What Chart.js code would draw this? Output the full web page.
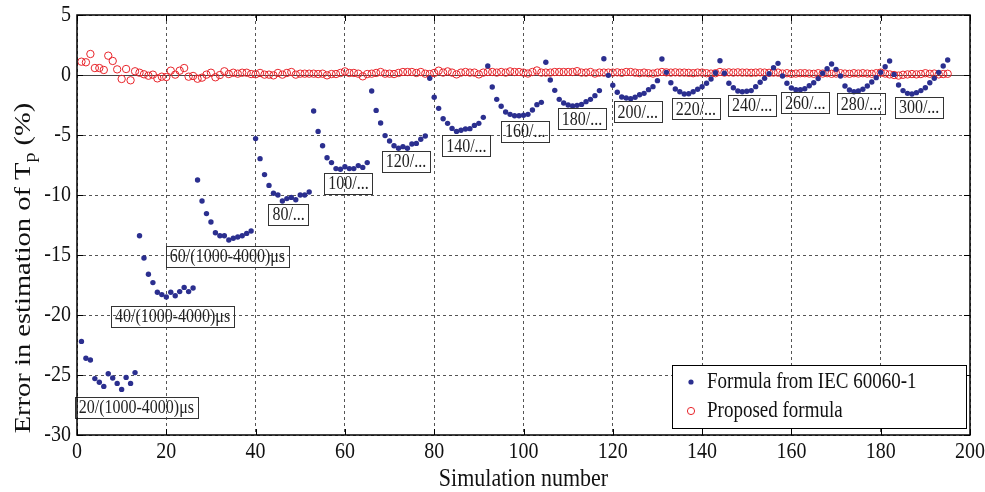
<!DOCTYPE html>
<html>
<head>
<meta charset="utf-8">
<script src="https://cdn.jsdelivr.net/npm/chart.js@4.4.0/dist/chart.umd.min.js"></script>
<style>
  html, body { margin: 0; padding: 0; background: #fff; }
  #wrap { width: 985px; height: 492px; }
</style>
</head>
<body>
<div id="wrap"><canvas id="chart" width="985" height="492"></canvas></div>
<script>
// Formula from IEC 60060-1 (simulations 1..195, groups of 13)
const iecError = [
  -22.2, -23.6, -23.75, -25.3, -25.6, -25.95, -24.9, -25.25, -25.7, -26.2, -25.2, -25.7, -24.8,
  -13.4, -15.25, -16.6, -17.3, -18.1, -18.3, -18.5, -18.1, -18.4, -18.05, -17.7, -18.05, -17.75,
  -8.75, -10.5, -11.55, -12.25, -13.15, -13.4, -13.4, -13.75, -13.6, -13.5, -13.4, -13.2, -13.0,
  -5.3, -6.97, -8.3, -9.2, -9.85, -10.0, -10.5, -10.3, -10.2, -10.4, -10.0, -10.0, -9.75,
  -3.0, -4.7, -5.9, -6.9, -7.3, -7.8, -7.85, -7.65, -7.8, -7.8, -7.55, -7.7, -7.3,
  -1.33, -2.95, -4.0, -5.05, -5.5, -5.9, -6.1, -5.97, -6.1, -5.75, -5.7, -5.36, -5.08,
  -0.28, -1.86, -2.78, -3.64, -4.03, -4.45, -4.7, -4.6, -4.5, -4.47, -4.2, -4.03, -3.53,
  0.75, -1.0, -2.03, -2.6, -3.08, -3.28, -3.4, -3.4, -3.35, -3.28, -2.92, -2.47, -2.28,
  1.06, -0.42, -1.28, -2.03, -2.33, -2.5, -2.58, -2.53, -2.45, -2.22, -2.03, -1.72, -1.3,
  1.36, -0.03, -0.86, -1.44, -1.83, -1.92, -1.97, -1.86, -1.64, -1.53, -1.22, -0.97, -0.47,
  1.33, 0.22, -0.64, -1.17, -1.39, -1.58, -1.56, -1.39, -1.19, -0.97, -0.69, -0.33, 0.19,
  1.19, 0.14, -0.69, -1.06, -1.33, -1.39, -1.36, -1.3, -0.97, -0.61, -0.28, 0.11, 0.61,
  0.97, -0.08, -0.69, -1.08, -1.22, -1.22, -1.15, -0.9, -0.65, -0.3, 0.14, 0.52, 0.92,
  0.47, -0.08, -0.92, -1.25, -1.39, -1.33, -1.19, -0.92, -0.58, -0.22, 0.22, 0.69, 1.17,
  0.05, -0.83, -1.3, -1.53, -1.58, -1.47, -1.3, -1.06, -0.64, -0.28, 0.22, 0.75, 1.25
];

// Proposed formula
const proposedError = [
  1.11, 1.06, 1.75, 0.58, 0.58, 0.42, 1.61, 1.17, 0.47, -0.33,
  0.5, -0.44, 0.31, 0.19, 0.06, -0.06, 0.03, -0.28, -0.14, -0.17,
  0.36, 0.03, 0.36, 0.58, -0.14, -0.08, -0.31, -0.22, 0.03, 0.19,
  -0.19, 0.0, 0.31, 0.08, 0.19, 0.11, 0.19, 0.19, 0.08, 0.06, 0.17,
  0.03, 0.03, -0.03, 0.17, 0.03, 0.17, 0.25, 0.03, 0.11, 0.11,
  0.11, 0.11, 0.08, 0.11, -0.03, 0.08, 0.08, 0.17, 0.3, 0.17,
  0.17, 0.11, -0.11, 0.08, 0.11, 0.17, 0.25, 0.11, 0.11, 0.08,
  0.17, 0.25, 0.25, 0.25, 0.17, 0.25, 0.11, 0.08, 0.17, 0.36,
  0.2, 0.3, 0.2, 0.05, 0.2, 0.25, 0.2, 0.2, 0.05, 0.2,
  0.25, 0.25, 0.2, 0.25, 0.2, 0.3, 0.25, 0.25, 0.2, 0.12,
  0.25, 0.38, 0.2, 0.2, 0.2, 0.25, 0.25, 0.25, 0.25, 0.25,
  0.32, 0.2, 0.2, 0.25, 0.12, 0.2, 0.2, 0.2,
  0.2, 0.22, 0.18, 0.25, 0.25, 0.2, 0.15, 0.2, 0.15, 0.12,
  0.2, 0.25, 0.22, 0.2, 0.22, 0.2, 0.2, 0.18, 0.15, 0.2,
  0.2, 0.15, 0.12, 0.15, 0.25, 0.2, 0.22, 0.2, 0.22, 0.2,
  0.2, 0.18, 0.2, 0.22, 0.2, 0.18, 0.2, 0.2,
  0.12, 0.15, 0.1, 0.12, 0.15, 0.15, 0.12, 0.1, 0.15, 0.12,
  0.15, 0.1, 0.12, 0.15, 0.12, 0.1, 0.15, 0.12, 0.15, 0.12,
  0.1, 0.15, 0.2, 0.12, 0.05, 0.0, -0.05, 0.02, 0.05, 0.08,
  0.05, 0.08, 0.15, 0.1, 0.12, 0.05, 0.08, 0.1
];

// waveform labels written next to each group
const groupLabels = [
  '20/(1000-4000)\u03bcs', '40/(1000-4000)\u03bcs', '60/(1000-4000)\u03bcs',
  '80/...', '100/...', '120/...', '140/...', '160/...', '180/...',
  '200/...', '220/...', '240/...', '260/...', '280/...', '300/...'
];
const seriesNames = ['Formula from IEC 60060-1', 'Proposed formula'];
const xTicks = [0, 20, 40, 60, 80, 100, 120, 140, 160, 180, 200];
const yTicks = [-30, -25, -20, -15, -10, -5, 0, 5];

// where each label box is centred (data coords)
const labelAt = [
  [13.3, -27.7], [21.4, -20.1], [33.7, -15.1], [47.4, -11.6], [60.8, -9.0],
  [73.7, -7.2], [87.2, -5.9], [100.4, -4.7], [113.1, -3.65], [125.6, -3.06],
  [138.6, -2.8], [151.2, -2.5], [163.1, -2.3], [175.6, -2.4], [188.6, -2.7]
];

const BLUE = '#2b2f8f';
const RED = '#e8252b';
const SERIF = "'Liberation Serif', 'Times New Roman', serif";
const STRETCH = 1.17; // the original figure is a bit taller than wide

const toPoints = arr => arr.map((v, i) => ({ x: i + 1, y: v }));

// text drawn slightly stretched vertically, like the source image
function tallText(ctx, txt, x, y, align, base) {
  ctx.save();
  ctx.translate(x, y);
  ctx.scale(1, STRETCH);
  ctx.textAlign = align;
  ctx.textBaseline = base;
  ctx.fillText(txt, 0, 0);
  ctx.restore();
}

const decor = {
  id: 'decor',
  beforeDatasetsDraw(chart) {
    const { ctx, chartArea: a, scales: { y } } = chart;
    const y0 = Math.round(y.getPixelForValue(0)) + 0.5;
    ctx.save();
    ctx.strokeStyle = '#444';
    ctx.lineWidth = 1;
    ctx.beginPath();
    ctx.moveTo(a.left, y0);
    ctx.lineTo(a.right, y0);
    ctx.stroke();
    ctx.restore();
  },
  afterDatasetsDraw(chart) {
    const { ctx, scales: { x, y } } = chart;
    ctx.save();
    ctx.font = '16px ' + SERIF;
    groupLabels.forEach((txt, i) => {
      const cx = x.getPixelForValue(labelAt[i][0]);
      const cy = y.getPixelForValue(labelAt[i][1]);
      const w = ctx.measureText(txt).width + 8;
      const h = 21;
      ctx.strokeStyle = '#333';
      ctx.lineWidth = 1;
      ctx.strokeRect(Math.round(cx - w / 2) + 0.5, Math.round(cy - h / 2) + 0.5, Math.round(w), h);
      ctx.fillStyle = '#222';
      tallText(ctx, txt, cx, cy + 1, 'center', 'middle');
    });
    ctx.restore();
  },
  afterDraw(chart) {
    const { ctx, chartArea: a, scales: { x, y } } = chart;
    ctx.save();
    // frame
    ctx.strokeStyle = '#000';
    ctx.lineWidth = 1.5;
    ctx.strokeRect(a.left, a.top, a.right - a.left, a.bottom - a.top);
    // inward ticks
    ctx.lineWidth = 1;
    ctx.beginPath();
    xTicks.forEach(v => {
      const px = Math.round(x.getPixelForValue(v)) + 0.5;
      ctx.moveTo(px, a.bottom); ctx.lineTo(px, a.bottom - 6);
      ctx.moveTo(px, a.top); ctx.lineTo(px, a.top + 6);
    });
    yTicks.forEach(v => {
      const py = Math.round(y.getPixelForValue(v)) + 0.5;
      ctx.moveTo(a.left, py); ctx.lineTo(a.left + 6, py);
      ctx.moveTo(a.right, py); ctx.lineTo(a.right - 6, py);
    });
    ctx.stroke();

    // tick labels
    ctx.fillStyle = '#111';
    ctx.font = '20px ' + SERIF;
    xTicks.forEach(v => tallText(ctx, String(v), x.getPixelForValue(v), a.bottom + 17, 'center', 'middle'));
    yTicks.forEach(v => tallText(ctx, String(v), a.left - 6, y.getPixelForValue(v), 'right', 'middle'));

    // x title
    ctx.font = '22px ' + SERIF;
    tallText(ctx, 'Simulation number', (a.left + a.right) / 2, a.bottom + 44, 'center', 'middle');

    // legend
    const lw = 294, lh = 63;
    const lx = a.right - 4 - lw, ly = a.bottom - 7 - lh;
    ctx.fillStyle = '#fff';
    ctx.fillRect(lx, ly, lw, lh);
    ctx.strokeStyle = '#000';
    ctx.strokeRect(Math.round(lx) + 0.5, Math.round(ly) + 0.5, lw, lh);
    ctx.font = '19px ' + SERIF;
    ctx.fillStyle = '#111';
    const r1 = ly + 17, r2 = ly + 46;
    tallText(ctx, seriesNames[0], lx + 35, r1, 'left', 'middle');
    tallText(ctx, seriesNames[1], lx + 35, r2, 'left', 'middle');
    ctx.beginPath();
    ctx.fillStyle = BLUE;
    ctx.arc(lx + 19, r1, 2.6, 0, Math.PI * 2);
    ctx.fill();
    ctx.beginPath();
    ctx.strokeStyle = RED;
    ctx.arc(lx + 19, r2, 3.6, 0, Math.PI * 2);
    ctx.stroke();

    // y axis title with subscript
    ctx.fillStyle = '#111';
    ctx.textAlign = 'left';
    ctx.textBaseline = 'alphabetic';
    const big = '23px ' + SERIF, small = '16px ' + SERIF;
    const p1 = 'Error in estimation of T', p2 = 'p', p3 = ' (%)';
    ctx.font = big;
    const w1 = ctx.measureText(p1).width, w3 = ctx.measureText(p3).width;
    ctx.font = small;
    const w2 = ctx.measureText(p2).width;
    const total = w1 + w2 + w3;
    ctx.translate(30, 268);
    ctx.rotate(-Math.PI / 2);
    ctx.scale(1.24, 1);
    let sx = -total / 2;
    ctx.font = big;
    ctx.fillText(p1, sx, 0);
    sx += w1;
    ctx.font = small;
    ctx.fillText(p2, sx, 5);
    sx += w2;
    ctx.font = big;
    ctx.fillText(p3, sx, 0);
    ctx.restore();
  }
};

new Chart(document.getElementById('chart'), {
  type: 'scatter',
  data: {
    datasets: [
      {
        label: seriesNames[0],
        data: toPoints(iecError),
        backgroundColor: BLUE,
        borderColor: BLUE,
        pointRadius: 2.7,
        borderWidth: 0
      },
      {
        label: seriesNames[1],
        data: toPoints(proposedError),
        backgroundColor: 'rgba(0,0,0,0)',
        borderColor: RED,
        pointRadius: 3.7,
        borderWidth: 1
      }
    ]
  },
  options: {
    responsive: false,
    animation: false,
    layout: { padding: { top: 15, right: 15, left: 0, bottom: 0 } },
    plugins: {
      legend: { display: false },
      tooltip: { enabled: false }
    },
    scales: {
      x: {
        type: 'linear',
        min: 0,
        max: 200,
        afterFit: s => { s.height = 57; s.paddingLeft = 0; s.paddingRight = 0; },
        afterBuildTicks: s => { s.ticks = xTicks.map(v => ({ value: v })); },
        grid: { color: '#555', drawTicks: false, lineWidth: 1 },
        border: { display: false, dash: [3, 3] },
        ticks: { display: false }
      },
      y: {
        min: -30,
        max: 5,
        afterFit: s => { s.width = 77; s.paddingTop = 0; s.paddingBottom = 0; },
        afterBuildTicks: s => { s.ticks = yTicks.map(v => ({ value: v })); },
        grid: { color: '#555', drawTicks: false, lineWidth: 1 },
        border: { display: false, dash: [3, 3] },
        ticks: { display: false }
      }
    }
  },
  plugins: [decor]
});
</script>
</body>
</html>
